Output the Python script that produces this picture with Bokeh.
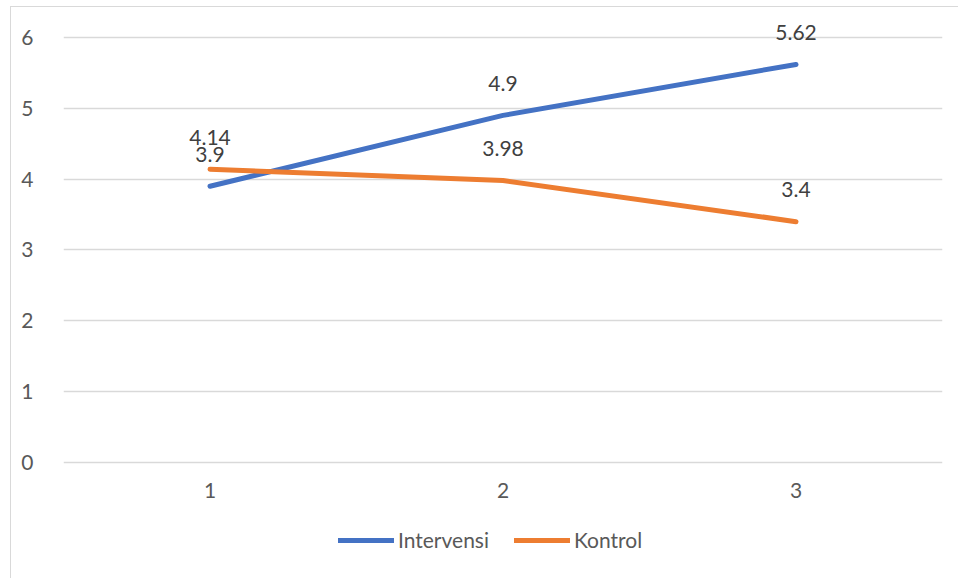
from bokeh.plotting import figure
from bokeh.models import Range1d, FixedTicker, ColumnDataSource, LabelSet, Legend, LegendItem
from bokeh.core.properties import value
from bokeh.embed import file_html
from bokeh.resources import INLINE

categories = [1, 2, 3]
x_labels = ["1", "2", "3"]
intervensi = [3.9, 4.9, 5.62]
kontrol = [4.14, 3.98, 3.4]
series_names = ["Intervensi", "Kontrol"]
y_ticks = [0, 1, 2, 3, 4, 5, 6]

BLUE = "#4472C4"
ORANGE = "#ED7D31"
FONT = "Lato"
FS = "21px"

p = figure(width=948, height=572, output_backend="svg", toolbar_location=None,
           x_range=Range1d(0.5, 3.5), y_range=Range1d(-1.285, 6.4235),
           min_border_left=52, min_border_right=17, min_border_top=0, min_border_bottom=26)
p.margin = (6, 0, 0, 10)
p.styles = {"border-left": "1px solid #d9d9d9", "border-top": "1px solid #d9d9d9"}
p.outline_line_color = None
p.background_fill_color = "white"
p.border_fill_color = "white"

p.xgrid.grid_line_color = None
p.ygrid.grid_line_color = "#d9d9d9"
p.ygrid.grid_line_width = 1.3
p.yaxis.ticker = FixedTicker(ticks=y_ticks)
p.xaxis.ticker = FixedTicker(ticks=categories)
p.xaxis.major_label_overrides = {c: l for c, l in zip(categories, x_labels)}
p.xaxis.fixed_location = -0.2
for ax in (p.xaxis, p.yaxis):
    ax.axis_line_color = None
    ax.major_tick_line_color = None
    ax.minor_tick_line_color = None
    ax.major_label_text_color = "#595959"
    ax.major_label_text_font = FONT
    ax.major_label_text_font_size = FS
p.yaxis.major_label_standoff = 24
p.xaxis.major_label_standoff = 0

src_i = ColumnDataSource(dict(x=categories, y=intervensi, t=[str(v) for v in intervensi]))
src_k = ColumnDataSource(dict(x=categories, y=kontrol, t=[str(v) for v in kontrol]))

r_i = p.line("x", "y", source=src_i, line_color=BLUE, line_width=5, line_cap="round", line_join="round")
r_k = p.line("x", "y", source=src_k, line_color=ORANGE, line_width=5, line_cap="round", line_join="round")

for src in (src_i, src_k):
    lbl = LabelSet(x="x", y="y", text="t", source=src, y_offset=32, text_align="center",
                   text_baseline="middle", text_color="#404040", text_font=value(FONT),
                   text_font_size=value(FS))
    p.add_layout(lbl)

legend = Legend(items=[LegendItem(label=series_names[0], renderers=[r_i]),
                       LegendItem(label=series_names[1], renderers=[r_k])],
                orientation="horizontal", location=(275, 1),
                padding=0, margin=0, spacing=25, glyph_width=56, glyph_height=20,
                label_height=20, label_standoff=4, label_text_font=FONT,
                label_text_font_size=FS, label_text_color="#595959",
                border_line_color=None, background_fill_alpha=0)
p.add_layout(legend, "center")

open("out.html", "w").write(file_html(p, INLINE))
